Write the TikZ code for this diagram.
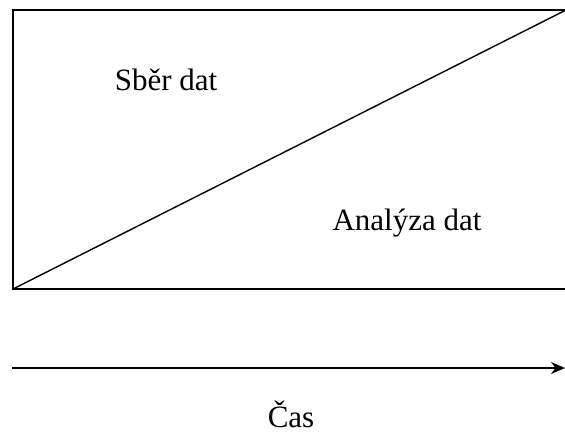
\documentclass[tikz,border=0pt]{standalone}
\usepackage{fontspec}
\setmainfont{Liberation Serif}
\usetikzlibrary{arrows.meta}
\begin{document}
\begin{tikzpicture}[x=1pt,y=-1pt,
  frame/.style={draw=black,line width=2pt},
  diag/.style={draw=black,line width=1.4pt},
  lbl/.style={anchor=base,inner sep=0pt,font=\fontsize{31}{36}\selectfont},
  timearrow/.style={draw=black,line width=1.5pt,-{Stealth[length=14pt,width=12pt]}}]
\useasboundingbox (0,0) rectangle (565,434);
\coordinate (tl) at (13,10);
\coordinate (br) at (566,289);
\coordinate (bl) at (13,289);
\coordinate (tr) at (566,10);
\draw[frame] (tl) rectangle (br);
\draw[diag] (bl) -- (tr);
\node[lbl] (sber) at (166,90) {Sběr dat};
\node[lbl] (anal) at (407,230) {Analýza dat};
\coordinate (a0) at (12,368);
\coordinate (a1) at (565,368);
\draw[timearrow] (a0) -- (a1);
\node[lbl] (cas) at (291,427) {Čas};
\end{tikzpicture}
\end{document}
